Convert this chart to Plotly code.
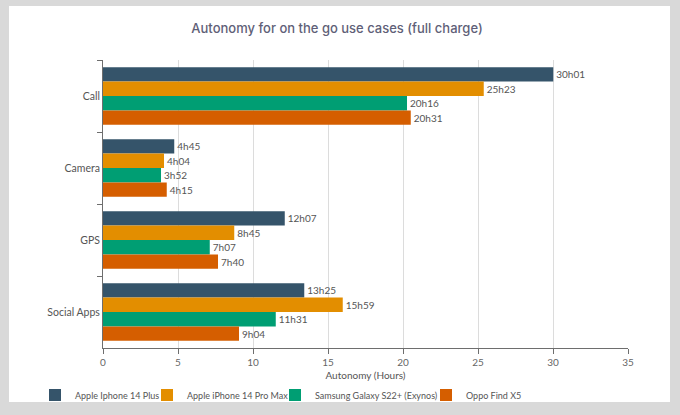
import plotly.graph_objects as go

categories = ["Call", "Camera", "GPS", "Social Apps"]
series_names = ["Apple Iphone 14 Plus", "Apple iPhone 14 Pro Max",
                "Samsung Galaxy S22+ (Exynos)", "Oppo Find X5"]
labels_iphone14plus = ["30h01", "4h45", "12h07", "13h25"]
labels_iphone14promax = ["25h23", "4h04", "8h45", "15h59"]
labels_s22plus = ["20h16", "3h52", "7h07", "11h31"]
labels_findx5 = ["20h31", "4h15", "7h40", "9h04"]
values_iphone14plus = [30.017, 4.75, 12.117, 13.417]
values_iphone14promax = [25.383, 4.067, 8.75, 15.983]
values_s22plus = [20.267, 3.867, 7.117, 11.517]
values_findx5 = [20.517, 4.25, 7.667, 9.067]
x_ticks = [0, 5, 10, 15, 20, 25, 30, 35]

colors = ["#35546a", "#e38e00", "#009e73", "#d55e00"]
all_values = [values_iphone14plus, values_iphone14promax, values_s22plus, values_findx5]
all_labels = [labels_iphone14plus, labels_iphone14promax, labels_s22plus, labels_findx5]

W, H = 680, 415
L, R, T, B = 103, 52, 60, 67
PW, PH = W - L - R, H - T - B


def px_x(px):
    return (px - L) / PW


def px_y(py):
    return (H - B - py) / PH


legend_ids = ["legend", "legend2", "legend3", "legend4"]
legend_text_x = [73, 185, 313, 464]

fig = go.Figure()
for i, (name, vals, labs, col) in enumerate(zip(series_names, all_values, all_labels, colors)):
    fig.add_trace(go.Bar(
        y=categories, x=vals, name=name, orientation="h",
        marker=dict(color=col, line=dict(width=0)),
        text=labs, textposition="outside", cliponaxis=False,
        textfont=dict(size=10, color="#555555"),
        legend=legend_ids[i], showlegend=True,
    ))

legends = {}
for lid, tx in zip(legend_ids, legend_text_x):
    legends[lid] = dict(orientation="h", xref="container", yref="container",
                        x=(tx - 38) / W, y=1 - 395 / H, xanchor="left", yanchor="middle",
                        font=dict(size=9, color="#555555"),
                        bgcolor="rgba(255,255,255,0)", borderwidth=0, itemwidth=30,
                        visible=True)

fig.update_layout(
    width=W, height=H, showlegend=True,
    paper_bgcolor="#d9d9d9", plot_bgcolor="white",
    font=dict(family="Lato, sans-serif", color="#555555"),
    margin=dict(l=L, r=R, t=T, b=B, autoexpand=False),
    barmode="group", bargap=0.2, bargroupgap=0,
    title=dict(text="Autonomy for on the go use cases (full charge)",
               x=px_x(337), xref="paper", xanchor="center", y=1 - 28 / H, yanchor="middle",
               font=dict(family="Inter, sans-serif", size=13, color="#5f5f78", weight=500)),
    xaxis=dict(range=[0, 35], tickvals=x_ticks, showgrid=True, gridcolor="#dcdcdc",
               gridwidth=1, zeroline=False, showline=True, linecolor="#6e6e6e",
               ticks="outside", ticklen=5, tickcolor="#6e6e6e", automargin=False,
               tickfont=dict(size=10, color="#666666"),
               title=dict(text="Autonomy (Hours)", font=dict(size=10, color="#555555"), standoff=8)),
    yaxis=dict(autorange="reversed", showline=True, linecolor="#6e6e6e", automargin=False,
               ticks="outside", ticklen=5, tickcolor="#6e6e6e", tickson="boundaries",
               showgrid=False, tickfont=dict(size=10.5, color="#555555")),
    shapes=[dict(type="rect", xref="paper", yref="paper",
                 x0=px_x(9), x1=px_x(670), y0=px_y(402), y1=px_y(6),
                 fillcolor="white", line=dict(width=0), layer="below")],
    **legends,
)

fig.write_html("out.html", config={"displayModeBar": False},
               post_script="document.body.style.margin='0';")
